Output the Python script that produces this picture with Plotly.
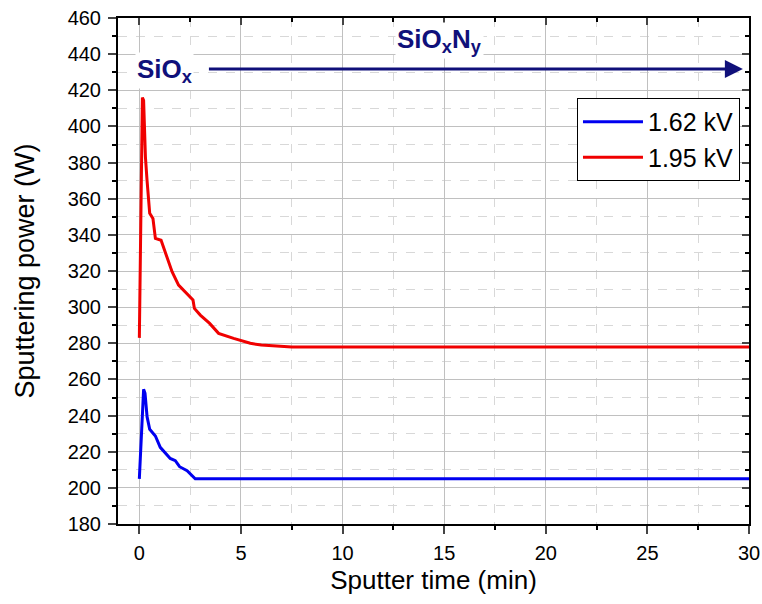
import plotly.graph_objects as go

# 1.62 kV series (blue)
t_162 = [0, 0.21, 0.28, 0.38, 0.51, 0.79, 1.03, 1.28, 1.52, 1.77, 1.98, 2.35, 2.75, 5, 10, 15, 20, 25, 30]
p_162 = [205, 254.5, 252.3, 239.4, 232.4, 228.7, 222.4, 219.1, 216.3, 215, 211.7, 209.5, 205, 205, 205, 205, 205, 205, 205]

# 1.95 kV series (red)
t_195 = [0, 0.15, 0.21, 0.30, 0.38, 0.51, 0.67, 0.79, 1.07, 1.28, 1.61, 1.93, 2.51, 2.64, 2.71, 3.0, 3.46,
         3.9, 4.64, 5.46, 6.0, 7.5, 10, 15, 20, 25, 30]
p_195 = [283, 416, 414.5, 383, 370, 352, 349, 338, 337, 330, 319.6, 312.2, 305.8, 304, 299.3, 295.6, 291,
         285.5, 282.7, 280, 279, 278, 278, 278, 278, 278, 278]

x_ticks = [0, 5, 10, 15, 20, 25, 30]
y_ticks = list(range(180, 461, 20))

FONT = "Arial, Liberation Sans, sans-serif"
NAVY = "#10107a"
X_RANGE = [-1.05, 30]
Y_RANGE = [180, 460]

fig = go.Figure()
fig.add_trace(go.Scatter(x=t_162, y=p_162, mode="lines", name="1.62 kV",
                         line=dict(color="#0000f0", width=3)))
fig.add_trace(go.Scatter(x=t_195, y=p_195, mode="lines", name="1.95 kV",
                         line=dict(color="#f00000", width=3)))
# empty trace so the mirrored top/right axes (with inward ticks) are drawn
fig.add_trace(go.Scatter(x=[], y=[], xaxis="x2", yaxis="y2", showlegend=False, hoverinfo="skip"))

common_grid = dict(showgrid=True, gridcolor="#c0c0c0", gridwidth=1)
fig.update_layout(
    width=762, height=604,
    margin=dict(l=118, r=13, t=18, b=80, autoexpand=False),
    paper_bgcolor="white", plot_bgcolor="white",
    font=dict(family=FONT, color="black"),
    showlegend=True,
    legend=dict(x=0.9857, y=0.842, xanchor="right", yanchor="top",
                bgcolor="white", bordercolor="black", borderwidth=1,
                font=dict(size=25, family=FONT), itemwidth=60,
                tracegroupgap=0),
    xaxis=dict(range=X_RANGE, tickvals=x_ticks, ticks="outside", ticklen=8, tickwidth=2,
               showline=True, linecolor="black", linewidth=2, zeroline=False, automargin=False,
               ticklabelstandoff=2,
               tickfont=dict(size=20), title=dict(text="Sputter time (min)", font=dict(size=26), standoff=8),
               minor=dict(dtick=2.5, tick0=0, ticks="outside", ticklen=4, tickwidth=2, tickcolor="black",
                          showgrid=True, gridcolor="#d8d8d8", griddash="dash", gridwidth=1),
               **common_grid),
    yaxis=dict(range=Y_RANGE, tickvals=y_ticks, ticks="outside", ticklen=8, tickwidth=2,
               showline=True, linecolor="black", linewidth=2, zeroline=False, automargin=False,
               ticklabelstandoff=3,
               tickfont=dict(size=20), title=dict(text="Sputtering power (W)", font=dict(size=27), standoff=25),
               minor=dict(dtick=10, tick0=180, ticks="outside", ticklen=4, tickwidth=2, tickcolor="black",
                          showgrid=True, gridcolor="#d8d8d8", griddash="dash", gridwidth=1),
               **common_grid),
    xaxis2=dict(overlaying="x", matches="x", side="top", anchor="y2", range=X_RANGE, automargin=False,
                tickvals=x_ticks, ticks="inside", ticklen=7, tickwidth=2, showticklabels=False,
                showline=True, linecolor="black", linewidth=2, showgrid=False, zeroline=False,
                minor=dict(dtick=2.5, tick0=0, ticks="inside", ticklen=4, tickwidth=2, tickcolor="black")),
    yaxis2=dict(overlaying="y", matches="y", side="right", anchor="x2", range=Y_RANGE, automargin=False,
                tickvals=y_ticks, ticks="inside", ticklen=7, tickwidth=2, showticklabels=False,
                showline=True, linecolor="black", linewidth=2, showgrid=False, zeroline=False,
                minor=dict(dtick=10, tick0=180, ticks="inside", ticklen=4, tickwidth=2, tickcolor="black")),
)

# Arrow
fig.add_annotation(x=29.7, y=431.8, ax=3.35, ay=431.8, xref="x", yref="y", axref="x", ayref="y",
                   text="", showarrow=True, arrowhead=2, arrowsize=1.2, arrowwidth=3, arrowcolor=NAVY)
fig.add_annotation(x=1.25, y=431.0, xref="x", yref="y", text="<b>SiO<sub>x</sub></b>", showarrow=False,
                   font=dict(size=26, color=NAVY, family=FONT), bgcolor="white", borderpad=1)
fig.add_annotation(x=14.75, y=447.3, xref="x", yref="y", text="<b>SiO<sub>x</sub>N<sub>y</sub></b>",
                   showarrow=False, font=dict(size=26, color=NAVY, family=FONT), bgcolor="white", borderpad=1)

fig.write_html("out.html")
